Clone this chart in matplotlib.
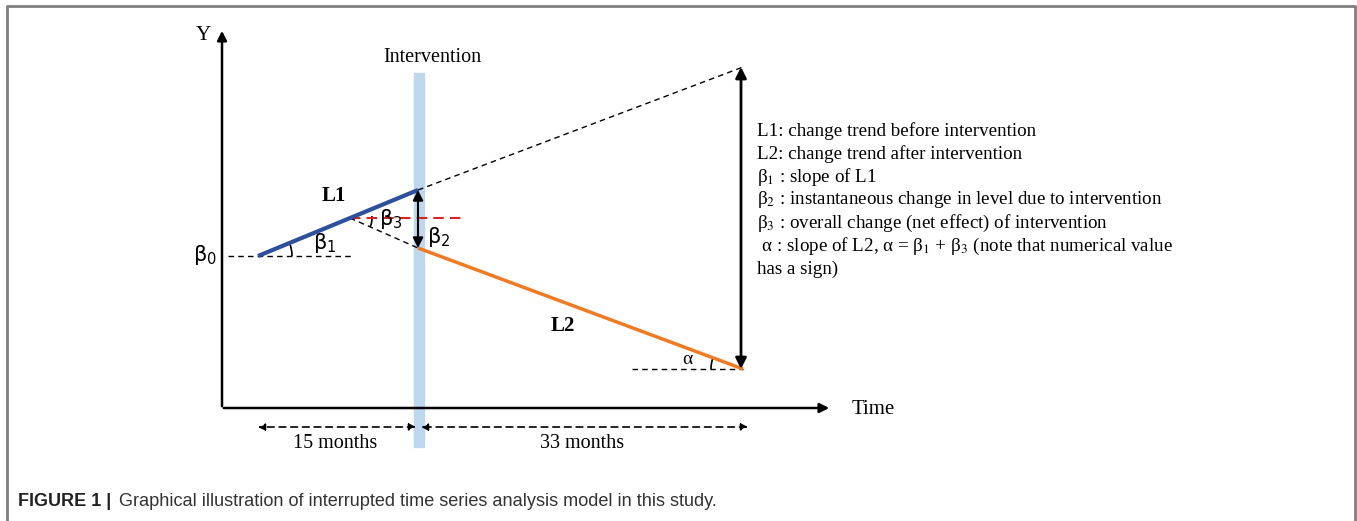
import matplotlib.pyplot as plt
from matplotlib.patches import Arc, Rectangle
import numpy as np

# schematic points (pixel-like layout units, y grows downward)
origin = (222, 408)
y_axis_top = 28
x_axis_end = 832
interv_x = 419
interv_band = (73, 447)

L1_x = [258, 418]
L1_y = [256, 190]
L2_x = [418, 743]
L2_y = [248, 369]
trend_ext_x = [418, 743]
trend_ext_y = [190, 67]
counter_x = [350, 418]
counter_y = [218, 248]

months_labels = ['15 months', '33 months']
months_spans = [(258, 416), (421, 748)]

legend_lines = [
    'L1: change trend before intervention',
    'L2: change trend after intervention',
    r'β$_1$ : slope of L1',
    r'β$_2$ : instantaneous change in level due to intervention',
    r'β$_3$ : overall change (net effect) of intervention',
    r' α : slope of L2, α = β$_1$ + β$_3$ (note that numerical value',
    'has a sign)',
]

blue = '#2c4f9e'
orange = '#f07b22'
band = '#bdd7ee'

plt.rcParams['font.family'] = ['Liberation Serif', 'DejaVu Serif']
plt.rcParams['mathtext.fontset'] = 'stix'

fig = plt.figure(figsize=(13.57, 5.21), dpi=100)
ax = fig.add_axes([0, 0, 1, 1])
ax.set_xlim(0, 1357)
ax.set_ylim(521, 0)
ax.axis('off')

# frame
ax.plot([7, 7, 1355, 1355], [521, 6, 6, 521], color='#7f7f7f', lw=2)

# intervention band
ax.add_patch(Rectangle((interv_x - 5, interv_band[0]), 10, interv_band[1] - interv_band[0],
                       color=band, zorder=1))
ax.text(432, 57, 'Intervention', ha='center', va='center', fontsize=14.5)

# axes arrows
arr = dict(arrowstyle='-|>', color='black', lw=1.8, mutation_scale=14)
ax.annotate('', xy=(origin[0], y_axis_top), xytext=(origin[0], origin[1] + 1), arrowprops=arr)
ax.annotate('', xy=(x_axis_end, origin[1]), xytext=(origin[0] - 1, origin[1]), arrowprops=arr)
ax.text(203, 35, 'Y', ha='center', va='center', fontsize=15)
ax.text(852, 410, 'Time', ha='left', va='center', fontsize=15)

# dashed helpers
ax.plot(trend_ext_x, trend_ext_y, 'k--', lw=1, dashes=(4, 3))
ax.plot([228, 353], [L1_y[0], L1_y[0]], 'k--', lw=1, dashes=(4, 3))
ax.plot(counter_x, counter_y, 'k--', lw=1, dashes=(4, 3))
ax.plot([350, 462], [218, 218], '--', color='#e02020', lw=1.5, dashes=(5, 3))
ax.plot([632, 743], [L2_y[1], L2_y[1]], 'k--', lw=1, dashes=(4, 3))

# trend lines
ax.plot(L1_x, L1_y, color=blue, lw=3, solid_capstyle='butt', zorder=3)
ax.plot(L2_x, L2_y, color=orange, lw=2.5, solid_capstyle='butt', zorder=3)
ax.text(334, 196, 'L1', ha='center', va='center', fontsize=15, fontweight='bold')
ax.text(563, 326, 'L2', ha='center', va='center', fontsize=15, fontweight='bold')

# angle arcs
a1 = np.degrees(np.arctan2(L1_y[1] - L1_y[0], L1_x[1] - L1_x[0]))
ax.add_patch(Arc((L1_x[0], L1_y[0]), 68, 68, theta1=a1, theta2=0, color='black', lw=1.2))
a3 = np.degrees(np.arctan2(counter_y[1] - counter_y[0], counter_x[1] - counter_x[0]))
ax.add_patch(Arc((counter_x[0], counter_y[0]), 44, 44, theta1=-5, theta2=a3, color='black', lw=1.2))
aa = np.degrees(np.arctan2(L2_y[0] - L2_y[1], L2_x[0] - L2_x[1])) % 360
ax.add_patch(Arc((L2_x[1], L2_y[1]), 64, 64, theta1=180, theta2=aa, color='black', lw=1.2))

# double arrows
darr = dict(arrowstyle='<|-|>', color='black', lw=1.5, mutation_scale=15, shrinkA=0, shrinkB=0)
ax.annotate('', xy=(interv_x - 1, L1_y[1]), xytext=(interv_x - 1, L2_y[0]), arrowprops=darr)
darr2 = dict(arrowstyle='<|-|>', color='black', lw=2, mutation_scale=16, shrinkA=0, shrinkB=0)
ax.annotate('', xy=(741, trend_ext_y[1]), xytext=(741, L2_y[1]), arrowprops=darr2)

# greek labels (sans)
gk = dict(fontsize=15, family='DejaVu Sans', math_fontfamily='dejavusans', va='center')
ax.text(193, 255, r'$\mathrm{\beta}_0$', ha='left', **gk)
ax.text(313, 243, r'$\mathrm{\beta}_1$', ha='left', **gk)
ax.text(379, 219, r'$\mathrm{\beta}_3$', ha='left', **gk)
ax.text(427, 237, r'$\mathrm{\beta}_2$', ha='left', **gk)
ax.text(687, 360, 'α', ha='center', va='center', fontsize=14)

# month spans
marr = dict(arrowstyle='<|-|>', color='black', lw=1.2, linestyle=(0, (4, 3)),
            mutation_scale=10, shrinkA=0, shrinkB=0)
for lab, (a, b) in zip(months_labels, months_spans):
    ax.annotate('', xy=(a, 427), xytext=(b, 427), arrowprops=marr)
    ax.text((a + b) / 2 - 2, 444, lab, ha='center', va='center', fontsize=14.5)

# legend text
for i, s in enumerate(legend_lines):
    ax.text(757, 131 + i * 23, s, ha='left', va='center', fontsize=13.7)

# caption
ax.text(18, 501, 'FIGURE 1 |', ha='left', va='center', fontsize=13,
        family='Liberation Sans', fontweight='bold', color='#222222')
ax.text(119, 501, 'Graphical illustration of interrupted time series analysis model in this study.',
        ha='left', va='center', fontsize=13.1, family='Liberation Sans', color='#333333')

fig.savefig('out.png', dpi=100)
